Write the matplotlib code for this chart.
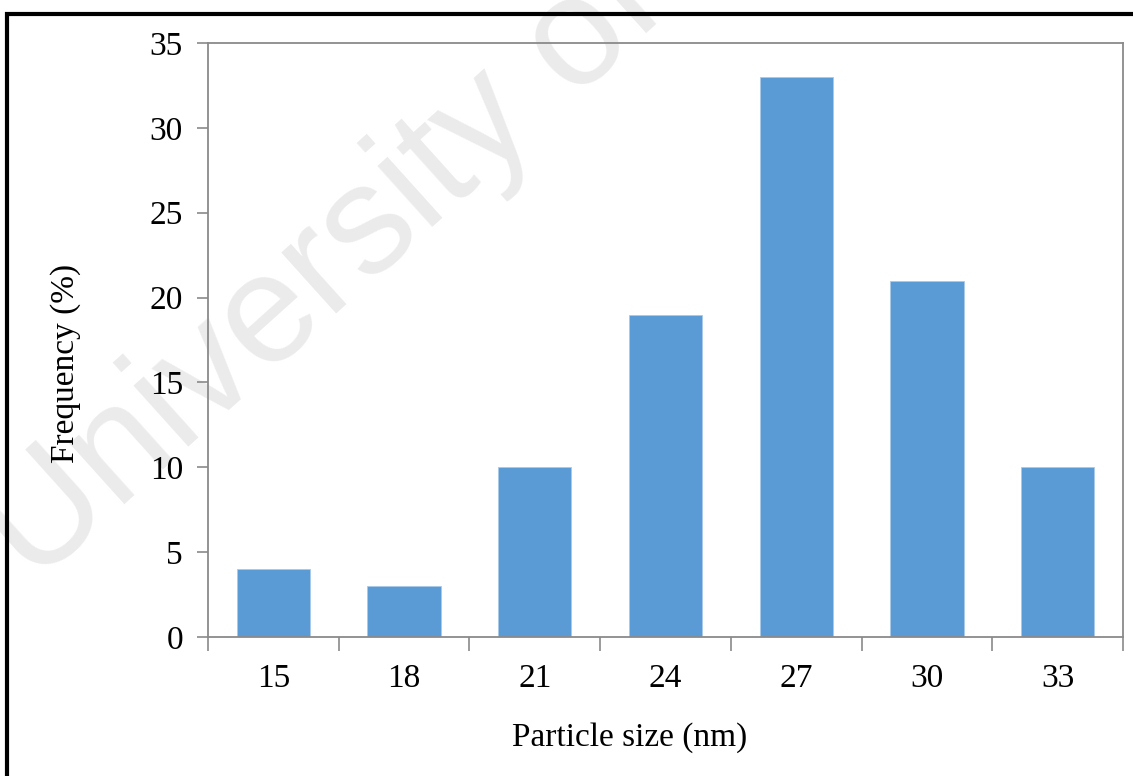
import matplotlib
matplotlib.use("Agg")
import matplotlib.pyplot as plt
from matplotlib.patches import Rectangle

sizes = ["15", "18", "21", "24", "27", "30", "33"]
freq = [4, 3, 10, 19, 33, 21, 10]
yticks = [0, 5, 10, 15, 20, 25, 30, 35]

plt.rcParams['font.family'] = ['Liberation Serif', 'DejaVu Serif']

fig = plt.figure(figsize=(11.33, 7.76), dpi=100)

# faint watermark behind the chart
fig.text(0.03, 0.245, "University of", fontsize=112, family='Liberation Sans',
         color='#ebebeb', rotation=42, rotation_mode='anchor',
         ha='left', va='baseline', zorder=-1)

ax = fig.add_axes([208/1133, 1 - 637/776, 915/1133, 594/776])
ax.patch.set_alpha(0)

x = list(range(len(sizes)))
ax.bar(x, freq, width=0.56, color='#5b9bd5', edgecolor='#a9c9ea', linewidth=0.6, zorder=2)

ax.set_xlim(-0.5, len(sizes) - 0.5)
ax.set_ylim(0, 35)
ax.set_yticks(yticks)
ax.set_yticklabels([str(v) for v in yticks])

ax.set_xticks([i - 0.5 for i in range(len(sizes) + 1)])
ax.set_xticklabels([])
ax.set_xticks(x, minor=True)
ax.set_xticklabels(sizes, minor=True)
ax.tick_params(axis='x', which='major', length=10, width=1.1, color='#808080', direction='out')
ax.tick_params(axis='x', which='minor', length=0, pad=19, labelsize=24)
ax.tick_params(axis='y', length=8, width=1.1, color='#808080', direction='out', pad=10, labelsize=24)

for s in ax.spines.values():
    s.set_color('#8a8a8a')
    s.set_linewidth(1.3)

ax.set_xlabel("Particle size (nm)", fontsize=24, va='center')
ax.xaxis.set_label_coords(0.461, -0.170)
ax.set_ylabel("Frequency (%)", fontsize=24, va='center')
ax.yaxis.set_label_coords(-0.156, 0.461)

# outer frame
fig.patches.append(Rectangle((7/1133, -0.1), 1.2, 1 - 14/776 + 0.1, transform=fig.transFigure,
                             fill=False, edgecolor='black', linewidth=3, zorder=5))

fig.savefig("out.png", dpi=100)
